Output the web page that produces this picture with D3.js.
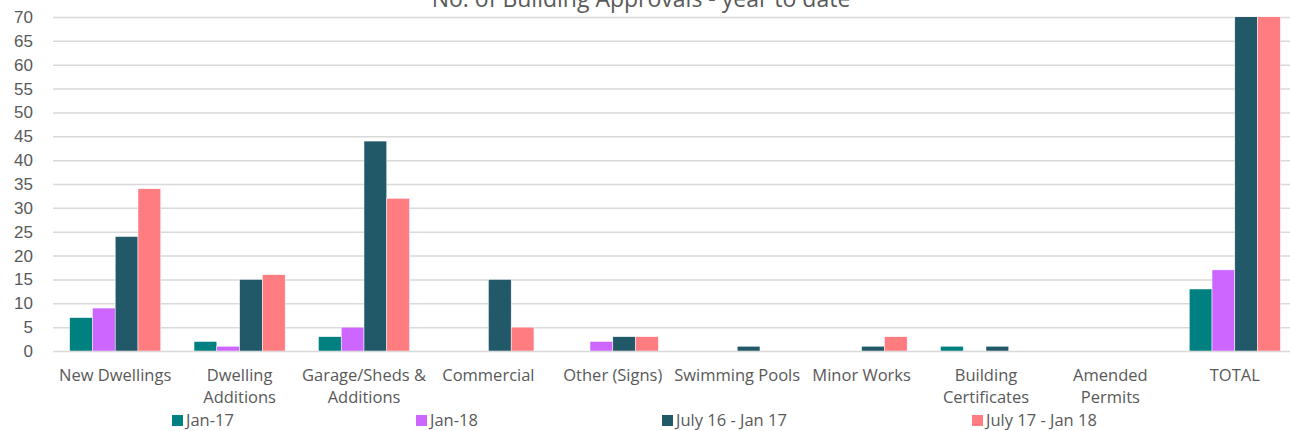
<!DOCTYPE html>
<html>
<head>
<meta charset="utf-8">
<script src="https://cdn.jsdelivr.net/npm/d3@7"></script>
<style>
  body { margin: 0; background: #fff; }
  svg { display: block; font-family: "Open Sans", sans-serif; }
</style>
</head>
<body>
<svg id="drawing_region"></svg>
<script>
// categories and series
const categories = [
    ["New Dwellings"], ["Dwelling", "Additions"], ["Garage/Sheds &", "Additions"],
    ["Commercial"], ["Other (Signs)"], ["Swimming Pools"], ["Minor Works"],
    ["Building", "Certificates"], ["Amended", "Permits"], ["TOTAL"]
];
const seriesNames = ["Jan-17", "Jan-18", "July 16 - Jan 17", "July 17 - Jan 18"];
const jan17 = [7, 2, 3, 0, 0, 0, 0, 1, 0, 13];
const jan18 = [9, 1, 5, 0, 2, 0, 0, 0, 0, 17];
const jul16jan17 = [24, 15, 44, 15, 3, 1, 1, 1, 0, 104];
const jul17jan18 = [34, 16, 32, 5, 3, 0, 3, 0, 0, 93];
const yTicks = [0, 5, 10, 15, 20, 25, 30, 35, 40, 45, 50, 55, 60, 65, 70];
const colors = ["#008080", "#CC66FF", "#215968", "#FF7C80"];

const series = [jan17, jan18, jul16jan17, jul17jan18];
const width = 1290, height = 431;
const margin = {top: 17, right: -7, bottom: 80, left: 53};

const svg = d3.select('#drawing_region')
    .attr('width', width)
    .attr('height', height);

const xscale = d3.scaleBand()
    .domain(d3.range(categories.length))
    .range([margin.left, width - margin.right]);

const xinner = d3.scaleBand()
    .domain(d3.range(series.length))
    .range([0, xscale.bandwidth()])
    .paddingInner(0)
    .paddingOuter(0.73);

const yscale = d3.scaleLinear()
    .domain([0, 70])
    .range([height - margin.bottom, margin.top]);

// gridlines
const yaxis = d3.axisLeft(yscale)
    .tickValues(yTicks)
    .tickSize(-(width - margin.left))
    .tickPadding(20)
    .tickFormat(d3.format('d'));

const yaxis_group = svg.append('g')
    .attr('transform', `translate(${margin.left},0)`)
    .call(yaxis);
yaxis_group.select('.domain').remove();
yaxis_group.selectAll('line')
    .attr('stroke', '#d9d9d9')
    .attr('stroke-width', 1.5);
yaxis_group.selectAll('text')
    .attr('fill', '#595959')
    .attr('font-size', 17)
    .attr('x', -20);

// title (cut off at the top, as in the source)
svg.append('text')
    .attr('x', 641)
    .attr('y', 7)
    .attr('text-anchor', 'middle')
    .attr('fill', '#595959')
    .attr('font-size', 23)
    .text('No. of Building Approvals - year to date');

// clip bars at the top of the axis
svg.append('clipPath').attr('id', 'plot_clip')
    .append('rect')
    .attr('x', 0).attr('y', yscale(70))
    .attr('width', width).attr('height', yscale(0) - yscale(70));

const groups = svg.append('g')
    .attr('clip-path', 'url(#plot_clip)')
    .selectAll('g')
    .data(categories)
    .join('g')
    .attr('transform', (d, i) => `translate(${xscale(i)},0)`);

groups.selectAll('rect')
    .data((d, i) => series.map((s, j) => ({j: j, v: s[i]})))
    .join('rect')
    .filter(d => d.v > 0)
    .attr('x', d => xinner(d.j))
    .attr('width', xinner.bandwidth())
    .attr('y', d => yscale(d.v))
    .attr('height', d => yscale(0) - yscale(d.v))
    .attr('fill', d => colors[d.j])
    .attr('stroke', '#fff')
    .attr('stroke-width', 0.5);

// category labels
svg.append('g').selectAll('text')
    .data(categories)
    .join('text')
    .attr('x', (d, i) => xscale(i) + xscale.bandwidth() / 2)
    .attr('y', 381)
    .attr('text-anchor', 'middle')
    .attr('fill', '#595959')
    .attr('font-size', 16.5)
    .selectAll('tspan')
    .data(d => d)
    .join('tspan')
    .attr('x', function() { return d3.select(this.parentNode).attr('x'); })
    .attr('dy', (d, i) => i === 0 ? 0 : 22)
    .text(d => d);

// legend
const legendX = [172, 416, 662, 972];
const legend = svg.append('g').selectAll('g')
    .data(seriesNames)
    .join('g')
    .attr('transform', (d, i) => `translate(${legendX[i]},415)`);
legend.append('rect')
    .attr('width', 11).attr('height', 11)
    .attr('fill', (d, i) => colors[i]);
legend.append('text')
    .attr('x', 14).attr('y', 11)
    .attr('fill', '#595959')
    .attr('font-size', 16.5)
    .text(d => d);
</script>
</body>
</html>
